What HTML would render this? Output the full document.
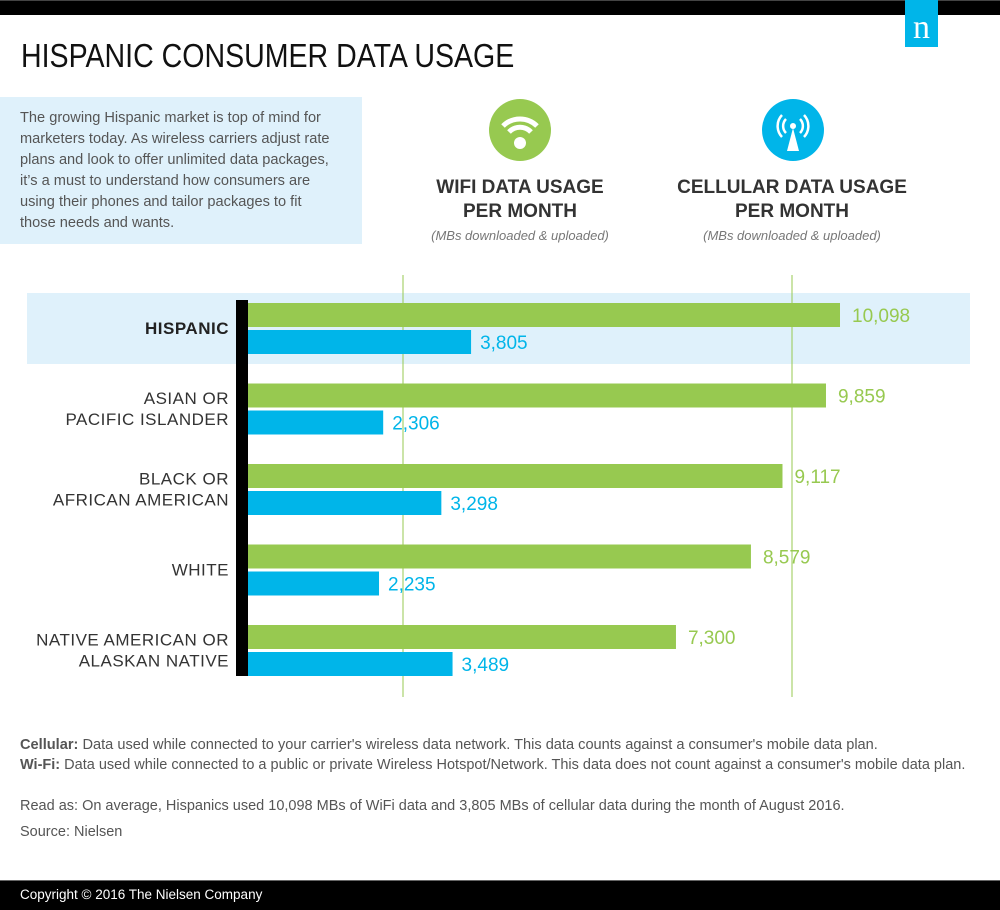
<!DOCTYPE html>
<html><head><meta charset="utf-8">
<style>
body{margin:0;width:1000px;height:909px;position:relative;background:#fff;font-family:"Liberation Sans",sans-serif;overflow:hidden}
.a{position:absolute}
</style></head><body>
<div class="a" style="left:0;top:0;width:1000px;height:14px;background:#000;border-top:1px solid #444"></div>
<div class="a" style="left:905px;top:0;width:33px;height:47px;background:#00b5e9;color:#fff;font-family:'Liberation Serif',serif;font-size:34px;text-align:center;line-height:56px">n</div>
<div class="a" style="left:21px;top:37px;font-size:33px;color:#111;transform:scaleX(0.865);transform-origin:left;white-space:nowrap">HISPANIC CONSUMER DATA USAGE</div>
<div class="a" style="left:0;top:97px;width:362px;height:147px;background:#dff1fb"></div>
<div class="a" style="left:20px;top:108px;font-size:14.6px;line-height:21px;color:#555;white-space:nowrap">The growing Hispanic market is top of mind for<br>marketers today. As wireless carriers adjust rate<br>plans and look to offer unlimited data packages,<br>it’s a must to understand how consumers are<br>using their phones and tailor packages to fit<br>those needs and wants.</div>
<svg class="a" style="left:489px;top:99px" width="62" height="62" viewBox="0 0 62 62"><circle cx="31" cy="31" r="31" fill="#97c950"/><path d="M14 27 A24 24 0 0 1 48 27" stroke="#fff" stroke-width="5" fill="none"/><path d="M20 33 A15 15 0 0 1 42 33" stroke="#fff" stroke-width="5" fill="none"/><circle cx="31" cy="44" r="6" fill="#fff"/></svg>
<svg class="a" style="left:762px;top:99px" width="62" height="62" viewBox="0 0 62 62"><circle cx="31" cy="31" r="31" fill="#00b5e9"/><path d="M20 16 A16 16 0 0 0 20 38 M42 16 A16 16 0 0 1 42 38 M24 20 A10 10 0 0 0 24 34 M38 20 A10 10 0 0 1 38 34" stroke="#fff" stroke-width="2.5" fill="none"/><circle cx="31" cy="27" r="3" fill="#fff"/><polygon points="31,29 25,52 37,52" fill="#fff"/></svg>
<div class="a" style="left:380px;top:176px;width:280px;text-align:center;font-size:19px;font-weight:bold;color:#333;line-height:24px;white-space:nowrap">WIFI DATA USAGE<br>PER MONTH<div style="font-size:13px;font-weight:normal;font-style:italic;color:#777">(MBs downloaded &amp; uploaded)</div></div>
<div class="a" style="left:652px;top:176px;width:280px;text-align:center;font-size:19px;font-weight:bold;color:#333;line-height:24px;white-space:nowrap">CELLULAR DATA USAGE<br>PER MONTH<div style="font-size:13px;font-weight:normal;font-style:italic;color:#777">(MBs downloaded &amp; uploaded)</div></div>
<svg class="a" id="chart" style="left:0;top:0" width="1000" height="909"></svg>
<div class="a" style="left:20px;top:737px;font-size:14.6px;color:#555;white-space:nowrap"><b>Cellular:</b> Data used while connected to your carrier's wireless data network. This data counts against a consumer's mobile data plan.</div>
<div class="a" style="left:20px;top:757px;font-size:14.5px;color:#555;white-space:nowrap"><b>Wi-Fi:</b> Data used while connected to a public or private Wireless Hotspot/Network. This data does not count against a consumer's mobile data plan.</div>
<div class="a" style="left:20px;top:798px;font-size:14.5px;color:#555;white-space:nowrap">Read as: On average, Hispanics used 10,098 MBs of WiFi data and 3,805 MBs of cellular data during the month of August 2016.</div>
<div class="a" style="left:20px;top:824px;font-size:14.5px;color:#555">Source: Nielsen</div>
<div class="a" style="left:0;top:880px;width:1000px;height:29px;background:#000;color:#fff;font-size:13.5px;line-height:27px;border-top:1px solid #666"><span style="padding-left:20px">Copyright © 2016 The Nielsen Company</span></div>
<script>
const categories=[["HISPANIC"],["ASIAN OR","PACIFIC ISLANDER"],["BLACK OR","AFRICAN AMERICAN"],["WHITE"],["NATIVE AMERICAN OR","ALASKAN NATIVE"]];
const wifiValues=[10098,9859,9117,8579,7300];
const cellValues=[3805,2306,3298,2235,3489];
const NS="http://www.w3.org/2000/svg";
const svg=document.getElementById('chart');
const x0=248,scale=592/10098;
function xs(v){return x0+v*scale;}
function ys(i){return 303+i*80.5;}
function mk(t,a){const e=document.createElementNS(NS,t);for(const k in a)e.setAttribute(k,a[k]);svg.appendChild(e);return e;}
function fmt(v){return v.toLocaleString('en-US');}
let band=mk('rect',{x:27,y:293,width:943,height:71,fill:'#dff1fb'});


[403,792].forEach(gx=>{const g=mk('line',{x1:gx,x2:gx,y1:275,y2:697,stroke:'#97c950','stroke-width':1});

});
let ax=mk('rect',{x:236,y:300,width:12,height:376,fill:'#000'});


categories.forEach((c,i)=>{
 const y=ys(i);
 const gb=mk('rect',{x:x0,y:y,width:xs(wifiValues[i])-x0,height:24,fill:'#97c950'});
 
 
 const cb=mk('rect',{x:x0,y:y+27,width:xs(cellValues[i])-x0,height:24,fill:'#00b5e9'});
 
 
 const gt=mk('text',{x:xs(wifiValues[i])+12,y:y+19,fill:'#97c950','font-size':19,'font-family':'Liberation Sans, sans-serif'});
 gt.textContent=fmt(wifiValues[i]);
 
 
 const ct=mk('text',{x:xs(cellValues[i])+9,y:y+46,fill:'#00b5e9','font-size':19,'font-family':'Liberation Sans, sans-serif'});
 ct.textContent=fmt(cellValues[i]);
 
 
 const n=c.length;
 c.forEach((line,j)=>{
  const t=mk('text',{x:229,y:y+31+(j-(n-1)/2)*21,'text-anchor':'end',fill:i===0?'#222':'#333','font-weight':i===0?'bold':'normal','font-size':17,'letter-spacing':0.5,'font-family':'Liberation Sans, sans-serif'});
  t.textContent=line;
  
  
 });
});
</script>
</body></html>
